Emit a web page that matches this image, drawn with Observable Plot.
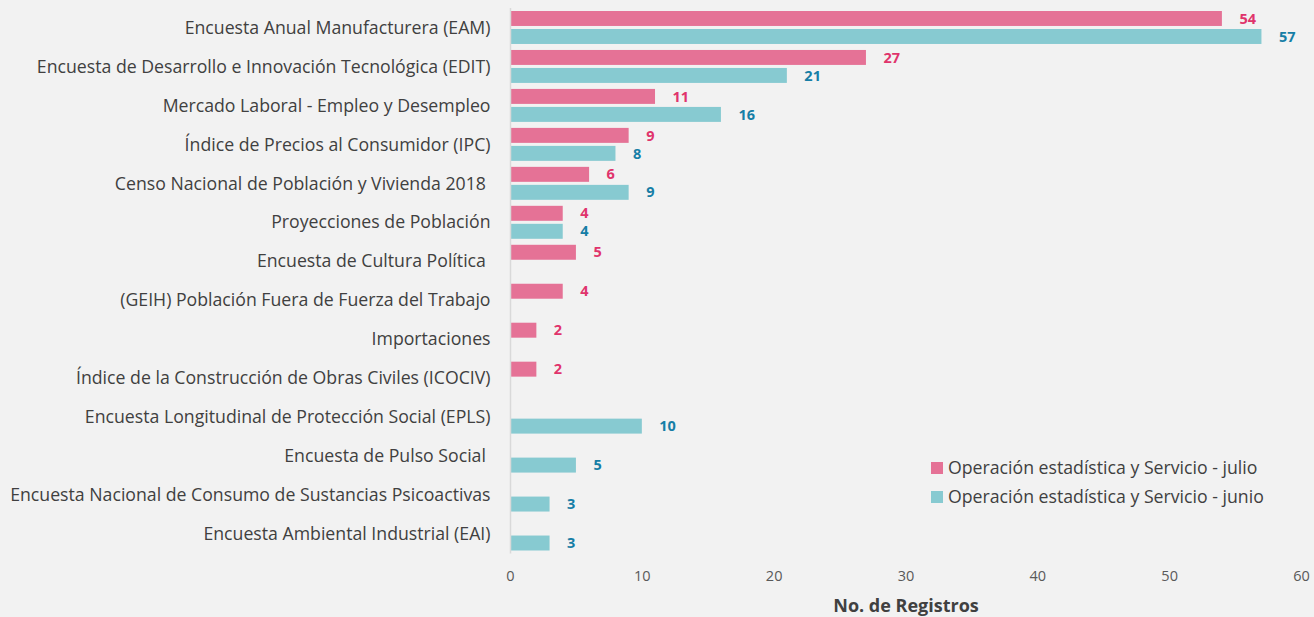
<!DOCTYPE html>
<html>
<head>
<meta charset="utf-8">
<script src="https://cdn.jsdelivr.net/npm/d3@7"></script>
<script src="https://cdn.jsdelivr.net/npm/@observablehq/plot@0.6"></script>
<style>
  html, body { margin: 0; padding: 0; background: #f2f2f2; }
  #wrap { position: relative; width: 1314px; height: 617px; font-family: "Open Sans", "Noto Sans", sans-serif; }
  #legend { position: absolute; left: 931px; top: 453px; font-size: 17.7px; color: #404040; line-height: 29px; }
  #legend .sw { display: inline-block; width: 12px; height: 12px; margin-right: 5px; vertical-align: 0px; }
  g[aria-label="x-axis label"] text { font-weight: bold; font-size: 18px; fill: #404040; }
  g[aria-label="x-axis tick label"] text { font-family: "Liberation Sans Narrow", "Open Sans", sans-serif; }
</style>
</head>
<body>
<div id="wrap"></div>
<script>
const categories = [
  "Encuesta Anual Manufacturera (EAM)",
  "Encuesta de Desarrollo e Innovación Tecnológica (EDIT)",
  "Mercado Laboral - Empleo y Desempleo",
  "Índice de Precios al Consumidor (IPC)",
  "Censo Nacional de Población y Vivienda 2018\u00a0",
  "Proyecciones de Población",
  "Encuesta de Cultura Política\u00a0",
  "(GEIH) Población Fuera de Fuerza del Trabajo",
  "Importaciones",
  "Índice de la Construcción de Obras Civiles (ICOCIV)",
  "Encuesta Longitudinal de Protección Social (EPLS)",
  "Encuesta de Pulso Social\u00a0",
  "Encuesta Nacional de Consumo de Sustancias Psicoactivas",
  "Encuesta Ambiental Industrial (EAI)"
];
const julio = [54, 27, 11, 9, 6, 4, 5, 4, 2, 2, null, null, null, null];
const junio = [57, 21, 16, 8, 9, 4, null, null, null, null, 10, 5, 3, 3];
const seriesNames = ["Operación estadística y Servicio - julio", "Operación estadística y Servicio - junio"];
const xTicks = [0, 10, 20, 30, 40, 50, 60];

const julioData = categories.map((c, i) => ({category: c, value: julio[i]})).filter(d => d.value != null);
const junioData = categories.map((c, i) => ({category: c, value: junio[i]})).filter(d => d.value != null);

const pinkBar = "#e57296", tealBar = "#87cad1";
const pinkText = "#e0346c", tealText = "#167ea6";

const chart = Plot.plot({
  width: 1314,
  height: 617,
  marginLeft: 510,
  marginRight: 13,
  marginTop: 8,
  marginBottom: 63.5,
  style: {background: "transparent", fontFamily: "'Open Sans', 'Noto Sans', sans-serif"},
  x: {domain: [0, 60]},
  y: {domain: categories, padding: 0, round: false},
  marks: [
    Plot.axisX({ticks: xTicks, tickSize: 0, tickPadding: 17, fontSize: 14.5, color: "#595959",
      label: "No. de Registros", labelAnchor: "center", labelOffset: 58, labelArrow: false}),
    Plot.axisY({tickSize: 0, tickPadding: 20, fontSize: 17.7, color: "#404040", label: null}),
    Plot.barX(julioData, {x: "value", y: "category", fill: pinkBar, insetTop: 12, insetBottom: 12, dy: -9}),
    Plot.barX(junioData, {x: "value", y: "category", fill: tealBar, insetTop: 12, insetBottom: 12, dy: 9}),
    Plot.ruleX([0], {stroke: "#d9d9d9", strokeWidth: 1.5}),
    Plot.text(julioData, {x: "value", y: "category", text: d => String(d.value), dy: -9, dx: 17,
      textAnchor: "start", fill: pinkText, fontWeight: "bold", fontSize: 14.5}),
    Plot.text(junioData, {x: "value", y: "category", text: d => String(d.value), dy: 9, dx: 17,
      textAnchor: "start", fill: tealText, fontWeight: "bold", fontSize: 14.5})
  ]
});

const wrap = document.getElementById("wrap");
wrap.appendChild(chart);
const legend = document.createElement("div");
legend.id = "legend";
legend.innerHTML =
  `<div><span class="sw" style="background:${pinkBar}"></span>${seriesNames[0]}</div>` +
  `<div><span class="sw" style="background:${tealBar}"></span>${seriesNames[1]}</div>`;
wrap.appendChild(legend);
</script>
</body>
</html>
